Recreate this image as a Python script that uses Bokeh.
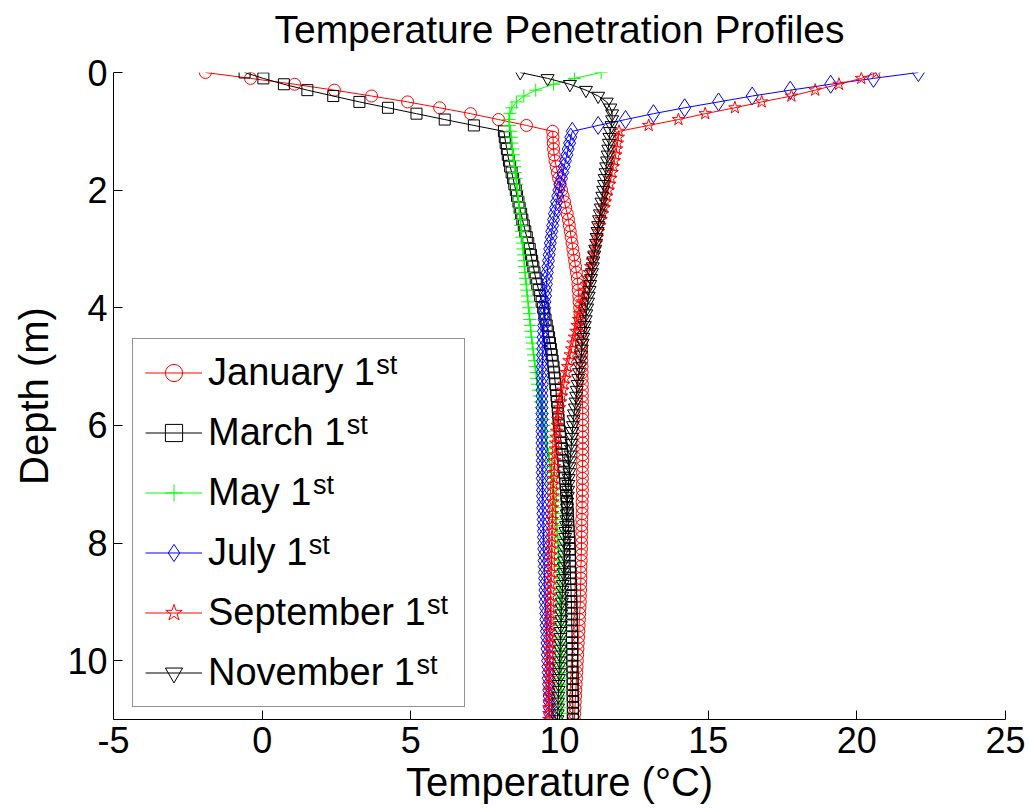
from bokeh.plotting import figure
from bokeh.models import (Range1d, FixedTicker, Legend, LegendItem,
                          ColumnDataSource, Title)
from bokeh.core.properties import value
from bokeh.embed import file_html
from bokeh.resources import INLINE

FONT = "Liberation Sans"

# Depth grid (m), 0.1 m spacing from the surface down to 11 m
depth_m = [round(0.1 * i, 1) for i in range(111)]

# Temperature profiles (deg C) on that grid
temp_jan = [
    -1.91, -0.39, 1.09, 2.43, 3.68, 4.89, 5.97, 7.01, 7.95, 8.89, 9.77,
    9.78, 9.79, 9.80, 9.82, 9.85, 9.89, 9.93, 9.97, 10.02, 10.07,
    10.12, 10.17, 10.21, 10.26, 10.30, 10.33, 10.36, 10.39, 10.42, 10.45,
    10.48, 10.51, 10.54, 10.57, 10.60, 10.62, 10.63, 10.65, 10.66, 10.68,
    10.69, 10.70, 10.71, 10.72, 10.73, 10.74, 10.74, 10.75, 10.75, 10.76,
    10.76, 10.76, 10.77, 10.77, 10.77, 10.77, 10.78, 10.78, 10.78, 10.78,
    10.78, 10.78, 10.78, 10.78, 10.78, 10.78, 10.77, 10.77, 10.77, 10.77,
    10.77, 10.77, 10.76, 10.76, 10.76, 10.75, 10.75, 10.75, 10.74, 10.74,
    10.74, 10.73, 10.73, 10.72, 10.72, 10.72, 10.71, 10.71, 10.70, 10.70,
    10.69, 10.68, 10.67, 10.66, 10.65, 10.64, 10.63, 10.62, 10.61, 10.60,
    10.59, 10.58, 10.57, 10.56, 10.55, 10.54, 10.53, 10.52, 10.51, 10.50,
]
temp_mar = [
    -0.59, 0.04, 0.73, 1.52, 2.39, 3.27, 4.23, 5.19, 6.14, 7.12, 8.13,
    8.16, 8.19, 8.23, 8.26, 8.30, 8.34, 8.39, 8.44, 8.48, 8.53,
    8.57, 8.62, 8.66, 8.71, 8.75, 8.80, 8.85, 8.90, 8.95, 9.00,
    9.04, 9.08, 9.12, 9.16, 9.20, 9.25, 9.30, 9.35, 9.40, 9.45,
    9.49, 9.53, 9.57, 9.61, 9.65, 9.68, 9.71, 9.74, 9.77, 9.80,
    9.82, 9.84, 9.86, 9.88, 9.90, 9.92, 9.94, 9.95, 9.97, 9.98,
    10.01, 10.03, 10.06, 10.08, 10.10, 10.12, 10.14, 10.16, 10.18, 10.20,
    10.22, 10.23, 10.25, 10.27, 10.28, 10.29, 10.30, 10.31, 10.32, 10.33,
    10.34, 10.35, 10.35, 10.36, 10.37, 10.37, 10.38, 10.39, 10.39, 10.40,
    10.40, 10.41, 10.41, 10.41, 10.42, 10.42, 10.42, 10.43, 10.43, 10.43,
    10.43, 10.44, 10.44, 10.44, 10.44, 10.44, 10.45, 10.45, 10.45, 10.45,
]
temp_may = [
    11.40, 10.50, 9.80, 9.20, 8.80, 8.55, 8.40, 8.33, 8.30, 8.32, 8.36,
    8.38, 8.40, 8.42, 8.45, 8.47, 8.49, 8.51, 8.54, 8.56, 8.58,
    8.60, 8.62, 8.64, 8.66, 8.68, 8.70, 8.72, 8.73, 8.75, 8.77,
    8.79, 8.81, 8.82, 8.84, 8.86, 8.88, 8.90, 8.92, 8.94, 8.96,
    8.98, 9.00, 9.02, 9.04, 9.06, 9.08, 9.11, 9.13, 9.16, 9.18,
    9.21, 9.23, 9.26, 9.29, 9.32, 9.35, 9.38, 9.42, 9.45, 9.48,
    9.51, 9.54, 9.57, 9.60, 9.63, 9.66, 9.68, 9.71, 9.74, 9.76,
    9.78, 9.81, 9.83, 9.85, 9.87, 9.89, 9.90, 9.92, 9.93, 9.95,
    9.96, 9.97, 9.98, 9.98, 9.99, 10.00, 10.00, 10.01, 10.01, 10.02,
    10.02, 10.03, 10.03, 10.03, 10.04, 10.04, 10.04, 10.04, 10.05, 10.05,
    10.05, 10.05, 10.05, 10.05, 10.06, 10.06, 10.06, 10.06, 10.06, 10.06,
]
temp_jul = [
    22.07, 20.56, 19.12, 17.76, 16.48, 15.35, 14.21, 13.16, 12.22, 11.30, 10.43,
    10.38, 10.34, 10.29, 10.25, 10.20, 10.16, 10.11, 10.07, 10.02, 9.98,
    9.94, 9.90, 9.87, 9.83, 9.80, 9.77, 9.74, 9.72, 9.69, 9.67,
    9.65, 9.63, 9.61, 9.59, 9.57, 9.56, 9.54, 9.53, 9.51, 9.50,
    9.49, 9.48, 9.47, 9.46, 9.45, 9.44, 9.44, 9.43, 9.43, 9.42,
    9.42, 9.42, 9.42, 9.41, 9.41, 9.41, 9.41, 9.41, 9.41, 9.41,
    9.41, 9.41, 9.41, 9.41, 9.42, 9.42, 9.42, 9.42, 9.42, 9.43,
    9.43, 9.43, 9.44, 9.44, 9.44, 9.45, 9.45, 9.46, 9.46, 9.47,
    9.47, 9.48, 9.48, 9.49, 9.49, 9.50, 9.50, 9.51, 9.51, 9.52,
    9.53, 9.54, 9.54, 9.55, 9.56, 9.57, 9.58, 9.58, 9.59, 9.60,
    9.61, 9.62, 9.62, 9.63, 9.64, 9.65, 9.66, 9.66, 9.67, 9.68,
]
temp_sep = [
    20.66, 20.15, 19.40, 18.60, 17.80, 16.80, 15.90, 14.90, 14.00, 13.00, 12.00,
    11.98, 11.95, 11.92, 11.89, 11.85, 11.81, 11.77, 11.73, 11.69, 11.64,
    11.59, 11.54, 11.50, 11.45, 11.40, 11.36, 11.32, 11.28, 11.24, 11.20,
    11.15, 11.10, 11.05, 11.00, 10.95, 10.91, 10.86, 10.82, 10.77, 10.73,
    10.68, 10.64, 10.59, 10.55, 10.50, 10.45, 10.41, 10.36, 10.32, 10.27,
    10.23, 10.19, 10.15, 10.11, 10.07, 10.04, 10.00, 9.97, 9.94, 9.92,
    9.90, 9.88, 9.87, 9.86, 9.85, 9.84, 9.83, 9.82, 9.81, 9.80,
    9.79, 9.79, 9.78, 9.77, 9.77, 9.76, 9.76, 9.75, 9.75, 9.74,
    9.74, 9.73, 9.73, 9.73, 9.72, 9.72, 9.71, 9.71, 9.70, 9.70,
    9.70, 9.69, 9.69, 9.69, 9.68, 9.68, 9.68, 9.67, 9.67, 9.67,
    9.66, 9.66, 9.66, 9.66, 9.65, 9.65, 9.65, 9.64, 9.64, 9.64,
]
temp_nov = [
    8.68, 9.60, 10.35, 10.89, 11.30, 11.59, 11.71, 11.77, 11.77, 11.75, 11.70,
    11.68, 11.66, 11.64, 11.62, 11.60, 11.57, 11.55, 11.52, 11.50, 11.47,
    11.44, 11.41, 11.39, 11.36, 11.33, 11.30, 11.28, 11.25, 11.23, 11.20,
    11.17, 11.14, 11.12, 11.09, 11.06, 11.03, 11.01, 10.98, 10.96, 10.93,
    10.90, 10.88, 10.85, 10.83, 10.80, 10.78, 10.75, 10.73, 10.70, 10.68,
    10.66, 10.63, 10.61, 10.58, 10.56, 10.54, 10.52, 10.49, 10.47, 10.45,
    10.43, 10.42, 10.40, 10.39, 10.37, 10.36, 10.34, 10.33, 10.31, 10.30,
    10.29, 10.28, 10.26, 10.25, 10.24, 10.23, 10.22, 10.20, 10.19, 10.18,
    10.17, 10.16, 10.15, 10.14, 10.13, 10.12, 10.11, 10.10, 10.09, 10.08,
    10.07, 10.06, 10.06, 10.05, 10.04, 10.03, 10.02, 10.02, 10.01, 10.00,
    9.99, 9.99, 9.98, 9.97, 9.97, 9.96, 9.95, 9.95, 9.94, 9.93,
]

month_names = ["January", "March", "May", "July", "September", "November"]
x_ticks = [-5, 0, 5, 10, 15, 20, 25]
y_ticks = [0, 2, 4, 6, 8, 10]
X_MIN, X_MAX, DEPTH_MAX = -5, 25, 11

series = [
    (month_names[0], temp_jan, "#ff0000", "circle", 12),
    (month_names[1], temp_mar, "#000000", "square", 11),
    (month_names[2], temp_may, "#00ff00", "cross", 13),
    (month_names[3], temp_jul, "#0000ff", "diamond", 18),
    (month_names[4], temp_sep, "#ff0000", "star", 13),
    (month_names[5], temp_nov, "#000000", "inverted_triangle", 13),
]
for _, vals, _, _, _ in series:
    assert len(vals) == len(depth_m)

FRAME_L, FRAME_R, FRAME_T, FRAME_B = 113, 1005, 72, 719
W, H = 1029, 809

p = figure(
    width=W, height=H,
    output_backend="svg", toolbar_location=None,
    x_range=Range1d(X_MIN, X_MAX), y_range=Range1d(DEPTH_MAX, 0),
    min_border_left=FRAME_L, min_border_right=W - FRAME_R,
    min_border_top=FRAME_T, min_border_bottom=H - FRAME_B,
    title="Temperature Penetration Profiles",
    x_axis_label="Temperature (\u00b0C)", y_axis_label="Depth (m)",
)
p.background_fill_color = "white"
p.border_fill_color = "white"
p.outline_line_color = None
p.grid.visible = False

p.title.align = "center"
p.title.vertical_align = "top"
p.title.text_font = FONT
p.title.text_font_size = "39px"
p.title.text_font_style = "normal"
p.title.text_color = "black"
p.title.standoff = 12
# small gap between the title block and the plotting area
p.add_layout(Title(text=" ", text_font_size="11px", standoff=0), "above")

for ax in (p.xaxis[0], p.yaxis[0]):
    ax.axis_line_color = "black"
    ax.axis_line_width = 1
    ax.major_tick_line_color = "black"
    ax.major_tick_in = 9
    ax.major_tick_out = 0
    ax.minor_tick_in = 0
    ax.minor_tick_out = 0
    ax.major_label_text_font = FONT
    ax.major_label_text_font_size = "36px"
    ax.major_label_text_color = "black"
    ax.axis_label_text_font = FONT
    ax.axis_label_text_font_size = "40px"
    ax.axis_label_text_font_style = "normal"
    ax.axis_label_text_color = "black"

p.xaxis.ticker = FixedTicker(ticks=x_ticks)
p.yaxis.ticker = FixedTicker(ticks=y_ticks)
p.xaxis.major_label_overrides = {t: str(t) for t in x_ticks}
p.xaxis.major_label_standoff = 7
p.xaxis.axis_label_standoff = 4
p.yaxis.major_label_standoff = 6
p.yaxis.axis_label_standoff = 8

items = []
for name, vals, color, marker, size in series:
    r_line = p.line(vals, depth_m, line_color=color, line_width=1)
    r_pts = p.scatter(vals, depth_m, marker=marker, size=size,
                      line_color=color, line_width=1, fill_color=None)
    items.append(LegendItem(label=name + " 1", renderers=[r_line, r_pts]))

# Legend box
LEG_PAD, GLYPH_W, STANDOFF, ROW_H, SPACING = 12, 57, 6, 43, 17
LEG_LEFT, LEG_BOTTOM, LEG_RIGHT = 132, 707, 463
LABEL_PX = 38
legend = Legend(
    items=items,
    location=(LEG_LEFT - FRAME_L, FRAME_B - LEG_BOTTOM),
    orientation="vertical",
    padding=LEG_PAD, margin=0, spacing=SPACING,
    glyph_width=GLYPH_W, glyph_height=ROW_H,
    label_height=ROW_H, label_standoff=STANDOFF,
    label_width=LEG_RIGHT - LEG_LEFT - 2 * LEG_PAD - GLYPH_W - STANDOFF,
    label_text_font=FONT, label_text_font_size=f"{LABEL_PX}px",
    label_text_color="black",
    border_line_color="#262626", border_line_width=1,
    background_fill_alpha=0.0,
)
p.add_layout(legend)

# Ordinal superscripts placed right after each legend label
ARIAL_W = {
    "J": .5, "M": .833, "S": .667, "N": .722, "a": .556, "n": .556, "u": .556,
    "r": .333, "y": .5, "c": .5, "h": .556, "l": .222, "e": .556, "p": .556,
    "t": .278, "m": .833, "b": .556, "o": .556, "v": .5, " ": .278, "1": .556,
}
n_items = len(items)
leg_height = 2 * LEG_PAD + n_items * ROW_H + (n_items - 1) * SPACING
leg_top = LEG_BOTTOM - leg_height
text_x0 = LEG_LEFT + LEG_PAD + GLYPH_W + STANDOFF
px_per_x = (FRAME_R - FRAME_L) / (X_MAX - X_MIN)
px_per_d = (FRAME_B - FRAME_T) / DEPTH_MAX
sup_x, sup_y = [], []
for i, name in enumerate(month_names):
    w = sum(ARIAL_W[c] for c in name + " 1") * LABEL_PX
    cx = text_x0 + w + 2
    cy = leg_top + LEG_PAD + ROW_H / 2 + i * (ROW_H + SPACING) - 9
    sup_x.append(X_MIN + (cx - FRAME_L) / px_per_x)
    sup_y.append((cy - FRAME_T) / px_per_d)
sup_src = ColumnDataSource(dict(x=sup_x, y=sup_y, t=["st"] * n_items))
p.text(x="x", y="y", text="t", source=sup_src,
       text_font=value(FONT), text_font_size=value("27px"),
       text_color="black", text_baseline="alphabetic", text_align="left")

open("out.html", "w").write(file_html(p, INLINE))
